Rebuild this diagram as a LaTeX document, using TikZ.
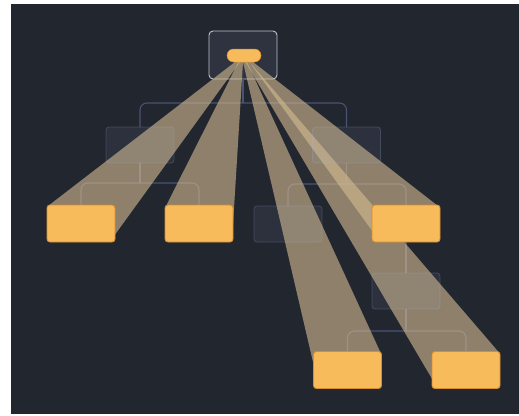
\documentclass[tikz,border=0pt]{standalone}
\usetikzlibrary{calc}
\definecolor{bgdark}{HTML}{22262F}
\definecolor{rootfill}{HTML}{2E333F}
\definecolor{rootedge}{HTML}{BFC1C8}
\definecolor{ghosttint}{HTML}{AAB9E6}
\definecolor{treecol}{HTML}{4B5272}
\definecolor{orangefill}{HTML}{F8BB5C}
\definecolor{orangeedge}{HTML}{D98D2C}
\definecolor{beamcol}{HTML}{D6BC92}
\tikzset{
  box/.style={inner sep=0pt, outer sep=0pt, minimum width=68pt, minimum height=36pt, rounded corners=3pt},
  ghostbox/.style={box, fill=ghosttint, fill opacity=0.08, draw=ghosttint, draw opacity=0.22, line width=0.8pt},
  orangebox/.style={box, minimum height=37pt, fill=orangefill, draw=orangeedge, line width=0.9pt},
  rootbox/.style={box, minimum width=68pt, minimum height=48pt, rounded corners=4pt, fill=rootfill, draw=rootedge, line width=0.9pt},
  pillnode/.style={inner sep=0pt, outer sep=0pt, minimum width=34pt, minimum height=13pt, rounded corners=6.5pt, fill=orangefill, draw=orangeedge, line width=0.5pt},
  treeline/.style={draw=treecol, line width=1.1pt, rounded corners=7pt},
  beam/.style={fill=beamcol, fill opacity=0.6}
}
\begin{document}
\begin{tikzpicture}[x=1pt,y=-1pt]
\useasboundingbox (0,0) rectangle (519,415);
\fill[white] (0,0) rectangle (519,415);
\fill[bgdark] (11,4) rectangle (519,414);

% node positions (boxes drawn in layers below)
\node[rootbox] (root) at (243,55) {};
\node[box] (g2l) at (140,145) {};
\node[box] (g2r) at (346.5,145) {};
\node[box, minimum height=37pt] (o3a) at (81,223.5) {};
\node[box, minimum height=37pt] (o3b) at (199,223.5) {};
\node[box] (g3c) at (288,224) {};
\node[box, minimum height=37pt] (o3d) at (406,223.5) {};
\node[box] (g4) at (406,291) {};
\node[box, minimum height=37pt] (o5a) at (347.5,370) {};
\node[box, minimum height=37pt] (o5b) at (466,370) {};

% tree connectors
\coordinate (bus1) at (243,103);
\coordinate (bus2) at (140,183);
\coordinate (bus3) at (346.5,184);
\coordinate (bus4) at (406,331);
\draw[treeline] (root.south) -- (bus1);
\draw[treeline] (g2l.north) |- (bus1) -| (g2r.north);
\draw[treeline] (g2l.south) -- (bus2);
\draw[treeline] (o3a.north) |- (bus2) -| (o3b.north);
\draw[treeline] (g2r.south) -- (bus3);
\draw[treeline] (g3c.north) |- (bus3) -| (o3d.north);
\draw[treeline] (o3d.south) -- (g4.north);
\draw[treeline] (g4.south) -- (bus4);
\draw[treeline] (o5a.north) |- (bus4) -| (o5b.north);

% beam apexes
\coordinate (a1l) at (235,62);
\coordinate (a1r) at (240,62);
\coordinate (a2l) at (238.5,62);
\coordinate (a2r) at (243,62);
\coordinate (a3l) at (243,62);
\coordinate (a3r) at (247,62);
\coordinate (a4l) at (245.5,62);
\coordinate (a4r) at (249.5,62);
\coordinate (a5l) at (249.5,62);
\coordinate (a5r) at (253,62);

% beams
\fill[beam] (a1l) -- ([shift={(1,1)}]o3a.north west) -- (o3a.center) -- ([shift={(-1,-6)}]o3a.south east) -- (a1r) -- cycle;
\fill[beam] (a2l) -- ([shift={(1,1)}]o3b.north west) -- (o3b.center) -- ([shift={(-1,-1)}]o3b.south east) -- (a2r) -- cycle;
\fill[beam] (a3l) -- ([shift={(1,-20)}]o5a.south west) -- (o5a.center) -- ([shift={(-1,1)}]o5a.north east) -- (a3r) -- cycle;
\fill[beam] (a4l) -- ([shift={(1,-8)}]o5b.south west) -- (o5b.center) -- ([shift={(-1,1)}]o5b.north east) -- (a4r) -- cycle;
\fill[beam] (a5l) -- ([shift={(1,-10)}]o3d.south west) -- (o3d.center) -- ([shift={(-2,1)}]o3d.north east) -- (a5r) -- cycle;

% translucent ghost boxes over beams
\node[ghostbox] at (g2l) {};
\node[ghostbox] at (g2r) {};
\node[ghostbox] at (g3c) {};
\node[ghostbox] at (g4) {};

% orange boxes on top
\node[orangebox] at (o3a) {};
\node[orangebox] at (o3b) {};
\node[orangebox] at (o3d) {};
\node[orangebox] at (o5a) {};
\node[orangebox] at (o5b) {};
\node[pillnode] (pill) at (244,55.5) {};
\end{tikzpicture}
\end{document}
